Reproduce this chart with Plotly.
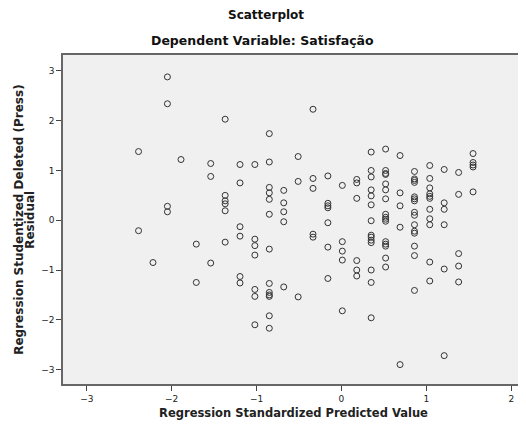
import plotly.graph_objects as go

# Predicted value columns and their residuals
predicted_levels = [-2.39, -2.22, -2.05, -1.89, -1.71, -1.54, -1.37, -1.195, -1.02, -0.85,
                    -0.68, -0.51, -0.335, -0.16, 0.01, 0.18, 0.35, 0.52, 0.69, 0.86,
                    1.04, 1.21, 1.38, 1.55]
residuals_by_level = [
    [1.38, -0.21],
    [-0.85],
    [2.88, 2.34, 0.28, 0.17],
    [1.22],
    [-0.48, -1.25],
    [1.14, 0.88, -0.86],
    [2.03, 0.50, 0.39, 0.33, 0.19, -0.44],
    [1.12, 0.75, -0.13, -0.32, -1.13, -1.26],
    [1.12, -0.38, -0.51, -0.70, -1.39, -1.53, -2.10],
    [1.74, 1.17, 0.66, 0.55, 0.42, 0.12, -0.58, -1.27, -1.45, -1.50, -1.53, -1.92, -2.17],
    [0.60, 0.35, 0.17, -0.03, -1.34],
    [1.28, 0.78, -1.54],
    [2.23, 0.84, 0.64, -0.28, -0.34],
    [0.89, 0.34, 0.29, 0.25, -0.05, -0.54, -1.17],
    [0.70, -0.43, -0.62, -0.80, -1.82],
    [0.82, 0.75, 0.44, -0.81, -1.00, -1.12],
    [1.37, 1.00, 0.87, 0.61, 0.49, 0.31, -0.01, -0.30, -0.34, -0.40, -0.45, -1.00, -1.25, -1.96],
    [1.43, 1.00, 0.94, 0.92, 0.73, 0.61, 0.43, 0.12, 0.06, 0.02, -0.02, -0.43, -0.48, -0.52, -0.76, -0.94],
    [1.30, 0.55, 0.29, -0.14, -2.90],
    [0.98, 0.83, 0.80, 0.76, 0.47, 0.43, 0.39, 0.16, 0.10, -0.09, -0.22, -0.26, -0.52, -0.71, -1.41],
    [1.10, 0.84, 0.65, 0.53, 0.48, 0.44, 0.22, 0.03, -0.09, -0.84, -1.22],
    [1.02, 0.35, 0.22, -0.09, -0.98, -2.72],
    [0.96, 0.52, -0.67, -0.92, -1.24],
    [1.34, 1.16, 1.11, 1.07, 0.57],
]
x_ticks = [-3, -2, -1, 0, 1, 2]
y_ticks = [-3, -2, -1, 0, 1, 2, 3]

x_vals = []
y_vals = []
for xv, ys in zip(predicted_levels, residuals_by_level):
    for yv in ys:
        x_vals.append(xv)
        y_vals.append(yv)

FONT = "DejaVu Sans"

fig = go.Figure()
fig.add_trace(go.Scatter(
    x=x_vals, y=y_vals, mode="markers",
    marker=dict(symbol="circle-open", size=6, color="#333333", line=dict(width=1, color="#333333")),
    showlegend=False, hoverinfo="skip",
))

fig.update_layout(
    width=518, height=417,
    margin=dict(l=55, r=0, t=47, b=41),
    paper_bgcolor="white", plot_bgcolor="#F0F0F0",
    font=dict(family=FONT, color="#222222"),
    xaxis=dict(range=[-3.28, 2.15], tickvals=x_ticks, showgrid=False, zeroline=False,
               showline=True, linecolor="#666666", linewidth=1.5, mirror=True,
               ticks="outside", ticklen=5, tickcolor="#444444", tickfont=dict(size=9, family=FONT),
               title=dict(text="<b>Regression Standardized Predicted Value</b>", font=dict(size=11.5, family=FONT), standoff=6)),
    yaxis=dict(range=[-3.29, 3.32], tickvals=y_ticks, showgrid=False, zeroline=False,
               showline=True, linecolor="#666666", linewidth=1.5, mirror=True,
               ticks="outside", ticklen=5, tickcolor="#444444", tickfont=dict(size=9, family=FONT)),
    annotations=[
        dict(text="<b>Scatterplot</b>", xref="paper", yref="paper", x=0.44, y=1.122,
             xanchor="center", yanchor="middle", showarrow=False, font=dict(size=12, family=FONT, color="#111111")),
        dict(text="<b>Dependent Variable: Satisfação</b>", xref="paper", yref="paper", x=0.433, y=1.043,
             xanchor="center", yanchor="middle", showarrow=False, font=dict(size=12.5, family=FONT, color="#111111")),
        dict(text="<b>Regression Studentized Deleted (Press)</b>", xref="paper", yref="paper", x=-0.097, y=0.5,
             xanchor="center", yanchor="middle", textangle=-90, showarrow=False,
             font=dict(size=12, family=FONT, color="#222222")),
        dict(text="<b>Residual</b>", xref="paper", yref="paper", x=-0.073, y=0.5,
             xanchor="center", yanchor="middle", textangle=-90, showarrow=False,
             font=dict(size=12, family=FONT, color="#222222")),
    ],
)

fig.write_html("out.html")
